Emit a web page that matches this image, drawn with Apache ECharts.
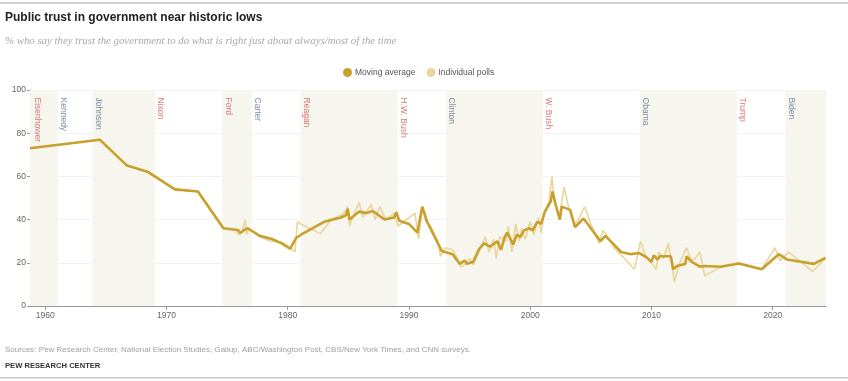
<!DOCTYPE html>
<html><head><meta charset="utf-8">
<script src="https://cdn.jsdelivr.net/npm/echarts@6/dist/echarts.min.js"></script>
<style>html,body{margin:0;padding:0;background:#fff}#c{width:848px;height:381px}</style>
</head><body><div id="c"></div>
<script>
const avgYears = [1958.75,1964.5,1966.75,1968.5,1970.7,1972.6,1974.7,1975.9,1976.1,1976.5,1976.7,1977.7,1978.7,1979.5,1980.2,1980.7,1981.1,1983,1984.4,1984.8,1984.95,1985.1,1985.9,1986.5,1987.0,1987.4,1988.0,1988.8,1988.95,1989.2,1990.0,1990.7,1991.1,1991.5,1992.7,1993.6,1994.2,1994.6,1994.8,1995.3,1995.8,1996.2,1996.7,1997.3,1997.6,1997.9,1998.1,1998.6,1998.9,1999.2,1999.5,1999.9,2000.2,2000.6,2000.9,2001.2,2001.7,2001.85,2002.1,2002.45,2002.6,2003.3,2003.7,2004.4,2005.4,2005.8,2006.2,2006.9,2007.5,2008.3,2009.0,2009.6,2010.0,2010.2,2010.5,2010.7,2011.6,2011.8,2012.1,2012.8,2012.9,2013.3,2014.0,2014.4,2015.7,2017.2,2019.1,2020.5,2021.2,2023.4,2024.35];
const avgValues = [73,77,65,62,54,53,36,35.2,33.8,35.5,36,32.5,31,29,26.5,31.5,33,39,41,42,45,40,43.7,43,44,42.5,40,41,43.5,39.5,38,34,46,39,25.5,24,19.5,21,19.5,20.5,26.5,29,27.5,30,26,32,34,28.5,33,32,35,36,35,39,38,43.5,48.5,53,47,40,46,44.5,36.5,40.5,33,30,32.5,28.5,25,24,24.5,22.5,20.5,23.5,21.5,23,23,17,18.5,19.5,23,20.5,18.2,18.5,18.2,19.7,17,24,21.5,19.5,22.3];
const pollYears = [1958.75,1964.5,1966.75,1968.5,1970.7,1972.6,1974.7,1975.7,1975.95,1976.2,1976.5,1976.6,1976.8,1977.7,1978.6,1979.5,1980.0,1980.6,1980.8,1981.4,1982.7,1983.6,1984.4,1984.8,1984.95,1985.1,1985.5,1985.9,1986.2,1986.9,1987.2,1987.6,1988.1,1988.8,1989.1,1989.8,1990.5,1990.8,1991.1,1991.4,1991.8,1992.4,1992.6,1993.0,1993.6,1994.0,1994.3,1994.8,1995.0,1995.3,1995.7,1996.3,1996.6,1997.0,1997.2,1997.5,1998.0,1998.2,1998.5,1998.8,1999.1,1999.3,1999.6,2000.0,2000.3,2000.7,2000.9,2001.2,2001.55,2001.8,2002.0,2002.4,2002.8,2003.2,2003.6,2003.9,2004.5,2005.0,2005.4,2005.7,2006.0,2006.5,2006.9,2007.6,2008.6,2009.1,2009.6,2010.0,2010.4,2010.6,2011.0,2011.4,2011.9,2012.2,2012.9,2013.3,2013.6,2014.0,2014.4,2015.7,2017.2,2019.1,2020.2,2020.6,2021.3,2023.3,2024.35];
const pollValues = [73,77,65,62,54,53,36,35,33,34,40,33,36,32,30,29.5,28,25,39,37,33.5,40,42,44,46,37,43,48,41,47,40,46,40,43,37,40,43,31,46,39,37,30,23,27,26,22,18,20,22,19,24,32,25,31,22,32,30,37,25,38,30,36,31,39,33,41,34,44,48,60,48,41,55,45,38,39,46,38,33,29,35,31,27,23,17,30,22,20,17,25,22,29,11,18,27,21,22,25,14,18,20,17,27,21,25,16,22];
const presidents = ['Eisenhower','Kennedy','Johnson','Nixon','Ford','Carter','Reagan','H.W. Bush','Clinton','W. Bush','Obama','Trump','Biden'];
const termStarts = [1958.75,1961.05,1963.9,1969.05,1974.6,1977.05,1981.05,1989.05,1993.05,2001.05,2009.05,2017.05,2021.05];
const parties = ['R','D','D','R','R','D','R','R','D','R','D','R','D'];
const yearTicks = [1960,1970,1980,1990,2000,2010,2020];

const X_MIN = 1958.75, X_MAX = 2024.4;
const GOLD = '#c9a02c', LIGHT = '#ead59c';

const bands = [];
for (let i = 0; i < termStarts.length; i += 2) {
  const end = i + 1 < termStarts.length ? termStarts[i + 1] : X_MAX;
  bands.push([{xAxis: termStarts[i]}, {xAxis: end}]);
}
const labelData = presidents.map((n, i) => ({
  value: [i === 0 ? 1959.38 : termStarts[i] + 0.48, 96.5],
  name: n,
  label: {color: parties[i] === 'R' ? '#cf5a5a' : '#5a7294'}
}));

const chart = echarts.init(document.getElementById('c'), null, {renderer: 'canvas'});
chart.setOption({
  animation: false,
  textStyle: {fontFamily: 'Liberation Sans'},
  grid: {left: 30, right: 22, top: 90, bottom: 75},
  legend: {
    left: 338, top: 63, itemWidth: 9, itemHeight: 9, itemGap: 11,
    icon: 'circle',
    data: ['Moving average', 'Individual polls'],
    textStyle: {fontSize: 8.5, color: '#555', fontFamily: 'Liberation Sans', padding: [0, 0, 0, -2]}
  },
  xAxis: {
    type: 'value', min: X_MIN, max: X_MAX,
    axisLine: {show: true, lineStyle: {color: '#999'}},
    axisTick: {show: true, length: 4, lineStyle: {color: '#999'}, customValues: yearTicks},
    axisLabel: {fontSize: 8.5, color: '#666', margin: 5, customValues: yearTicks, formatter: v => String(Math.round(v))},
    splitLine: {show: false}
  },
  yAxis: {
    type: 'value', min: 0, max: 100, interval: 20,
    axisLine: {show: true, lineStyle: {color: '#999'}},
    axisTick: {show: true, length: 3, lineStyle: {color: '#999'}},
    axisLabel: {fontSize: 8.5, color: '#666', margin: 4},
    splitLine: {show: true, lineStyle: {color: '#f3f3f3'}}
  },
  series: [
    {
      name: 'Individual polls', type: 'line', symbol: 'none', z: 2,
      data: pollYears.map((y, i) => [y, pollValues[i]]),
      itemStyle: {color: LIGHT},
      lineStyle: {color: LIGHT, width: 1.6},
      markArea: {silent: true, itemStyle: {color: '#f6f6ef'}, data: bands}
    },
    {
      name: 'Moving average', type: 'line', symbol: 'none', z: 3,
      data: avgYears.map((y, i) => [y, avgValues[i]]),
      itemStyle: {color: GOLD},
      lineStyle: {color: GOLD, width: 2.6}
    },
    {
      name: 'presidents', type: 'scatter', symbolSize: 0, silent: true, z: 4,
      data: labelData,
      label: {show: true, position: [0, 0], rotate: -90, align: 'left', verticalAlign: 'middle',
        fontSize: 8.5, fontFamily: 'Liberation Sans', formatter: p => p.name}
    }
  ],
  graphic: [
    {type: 'rect', shape: {x: 0, y: 2, width: 848, height: 2}, style: {fill: '#d0d0d0'}},
    {type: 'text', left: 5, top: 12, style: {text: 'Public trust in government near historic lows', fontSize: 12, fontWeight: 'bold', fill: '#222', fontFamily: 'Liberation Sans'}},
    {type: 'text', left: 5, top: 36, style: {text: '% who say they trust the government to do what is right just about always/most of the time', fontSize: 10.8, fontStyle: 'italic', fill: '#a8a8a8', fontFamily: 'Liberation Serif'}},
    {type: 'text', left: 5, top: 346, style: {text: 'Sources: Pew Research Center, National Election Studies, Gallup, ABC/Washington Post, CBS/New York Times, and CNN surveys.', fontSize: 8, fill: '#a0a0a0', fontFamily: 'Liberation Sans'}},
    {type: 'text', left: 5, top: 362, style: {text: 'PEW RESEARCH CENTER', fontSize: 7.6, fontWeight: 'bold', fill: '#333', fontFamily: 'Liberation Sans'}},
    {type: 'rect', shape: {x: 0, y: 377, width: 848, height: 1.5}, style: {fill: '#c8c8c8'}}
  ]
});
</script></body></html>
